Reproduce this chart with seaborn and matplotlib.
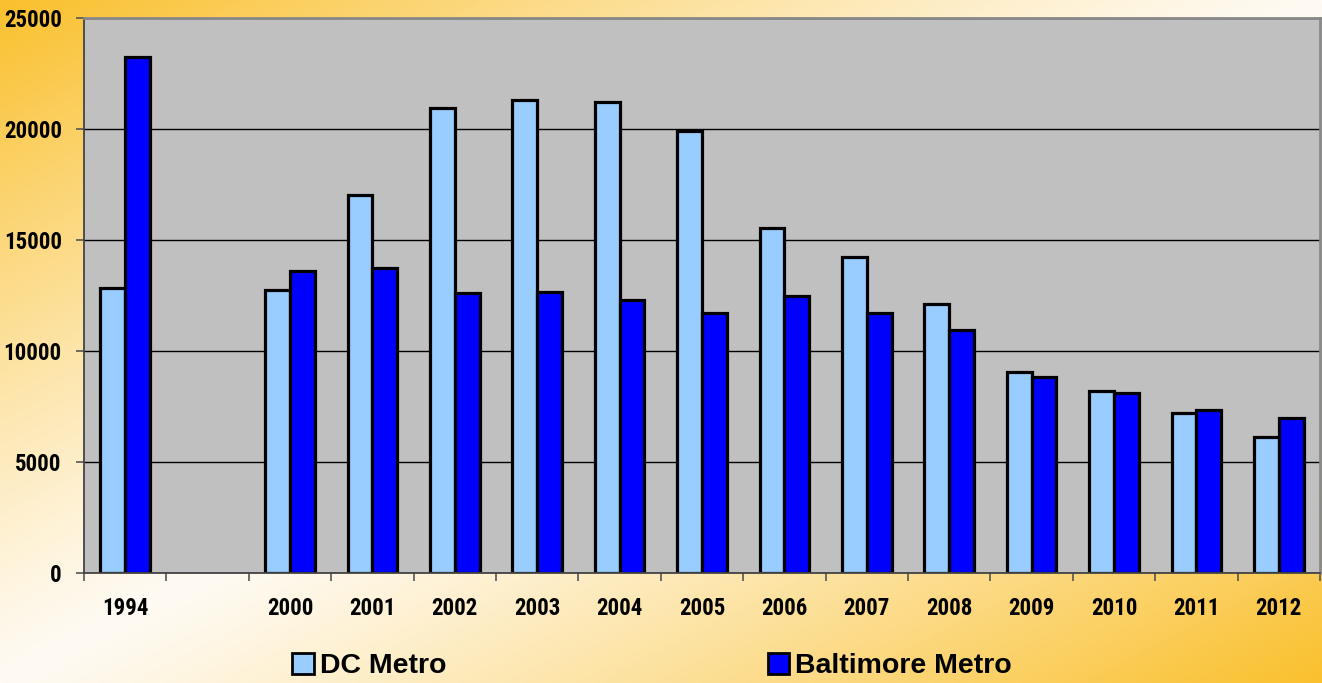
import numpy as np
import pandas as pd
import matplotlib
matplotlib.use("Agg")
import matplotlib.pyplot as plt
import seaborn as sns
from matplotlib.patches import Patch

categories = ["1994", " ", "2000", "2001", "2002", "2003", "2004", "2005",
              "2006", "2007", "2008", "2009", "2010", "2011", "2012"]
dc_metro = [12840, np.nan, 12750, 17030, 20950, 21310, 21220, 19910,
            15540, 14230, 12120, 9050, 8200, 7210, 6130]
baltimore_metro = [23240, np.nan, 13600, 13740, 12610, 12660, 12300, 11710,
                   12480, 11710, 10950, 8830, 8110, 7340, 6980]
series_names = ["DC Metro", "Baltimore Metro"]
series_colors = ["#99CCFF", "#0000FF"]

df = pd.DataFrame({
    "Year": categories * 2,
    "Value": dc_metro + baltimore_metro,
    "Series": [series_names[0]] * len(categories) + [series_names[1]] * len(categories),
})

sns.set_theme(style="white")
plt.rcParams["font.family"] = ["Liberation Sans", "DejaVu Sans"]
plt.rcParams["text.color"] = "black"

tick_family = ["Roboto Condensed", "Liberation Sans", "DejaVu Sans"]
tick_size = 16.5

fig = plt.figure(figsize=(13.22, 6.83), dpi=100)

# background gradient (orange corners along the main diagonal, white in middle)
bg = fig.add_axes([0, 0, 1, 1], zorder=-10)
H, W = 200, 400
yy, xx = np.mgrid[0:H, 0:W]
t = (xx / (W - 1) + yy / (H - 1)) / 2.0
s = np.abs(t - 0.5) * 2.0
s = np.clip(s, 0, 1) ** 1.15
orange = np.array([250, 192, 45]) / 255.0
white = np.array([255, 251, 244]) / 255.0
img = white[None, None, :] * (1 - s[..., None]) + orange[None, None, :] * s[..., None]
bg.imshow(img, aspect="auto", extent=[0, 1, 0, 1], origin="upper")
bg.set_axis_off()

ax = fig.add_axes([84 / 1322, 110 / 683, (1320 - 84) / 1322, (573 - 18) / 683])
ax.set_facecolor("#C0C0C0")

sns.barplot(data=df, x="Year", y="Value", hue="Series", order=categories,
            hue_order=series_names, palette=series_colors, width=0.6,
            edgecolor="black", linewidth=2.3, saturation=1, ax=ax, legend=False)

ax.set_ylim(0, 25000)
ax.set_xlim(-0.5, len(categories) - 0.5)
ax.set_yticks(np.arange(0, 25001, 5000))
ax.yaxis.grid(True, color="black", linewidth=1.0)
ax.set_axisbelow(True)
ax.set_xlabel("")
ax.set_ylabel("")

ax.set_xticks(np.arange(len(categories)))
ax.set_xticklabels(categories)
ax.set_xticks(np.arange(len(categories) + 1) - 0.5, minor=True)
ax.tick_params(axis="x", which="major", length=0, pad=17)
ax.tick_params(axis="x", which="minor", length=6, width=1.2, color="#555555",
               direction="out", bottom=True)
ax.tick_params(axis="y", which="major", length=6, width=1.2, color="#555555",
               direction="out", left=True, pad=10)
for lab in ax.get_xticklabels() + ax.get_yticklabels():
    lab.set_fontweight("bold")
    lab.set_color("black")
    lab.set_family(tick_family)
    lab.set_fontsize(tick_size)

for side in ["top", "right"]:
    ax.spines[side].set_color("#888888")
    ax.spines[side].set_linewidth(2)
for side in ["left", "bottom"]:
    ax.spines[side].set_color("#444444")
    ax.spines[side].set_linewidth(1.3)

handles = [Patch(facecolor=c, edgecolor="black", linewidth=2) for c in series_colors]
fig.legend(handles, series_names, loc="center", bbox_to_anchor=(652 / 1322, 17 / 683),
           ncol=2, frameon=False, prop={"weight": "bold", "size": 20.5},
           labelcolor="black",
           handlelength=0.75, handleheight=0.75, handletextpad=0.2,
           columnspacing=11.3, borderpad=0, borderaxespad=0)

fig.savefig("out.png", dpi=100)
